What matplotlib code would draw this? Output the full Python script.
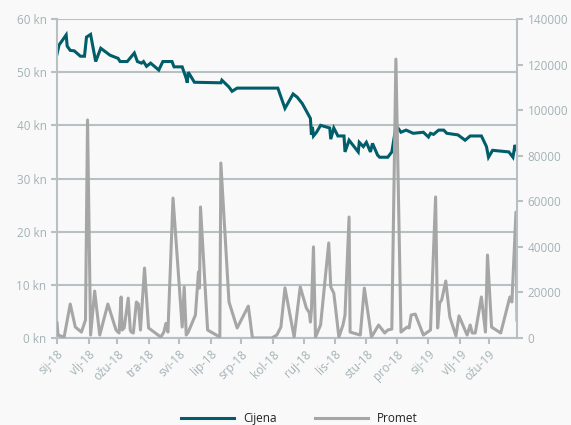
import numpy as np
import pandas as pd
import matplotlib
matplotlib.use("Agg")
import matplotlib.pyplot as plt
import matplotlib.dates as mdates

# days counted from 1 Jan 2018
start = pd.Timestamp("2018-01-01")
end_day = 452

price_days = [0, 2, 9, 10, 13, 17, 23, 27, 29, 33, 38, 43, 52, 60, 62, 69, 76, 79, 83, 85,
              88, 92, 100, 104, 113, 115, 123, 127, 128, 129, 135, 161, 162, 169, 172, 177,
              217, 224, 232, 236, 241, 245, 249, 250, 251, 252, 255, 259, 268, 269, 272, 276,
              282, 283, 287, 296, 297, 301, 304, 308, 310, 315, 317, 325, 329, 333, 335, 338,
              343, 350, 360, 365, 367, 370, 375, 380, 383, 394, 401, 406, 417, 422, 424, 428,
              444, 448, 450, 452]
price = [53.4, 55.1, 57.0, 54.9, 54.1, 54.0, 53.0, 53.0, 56.6, 57.1, 52.0, 54.5, 53.2, 52.6,
         52.0, 52.0, 53.6, 52.0, 51.7, 52.0, 51.1, 51.7, 50.4, 52.0, 52.0, 51.0, 51.0, 48.8,
         48.0, 50.0, 48.1, 48.0, 48.5, 47.2, 46.4, 47.0, 47.0, 43.2, 45.9, 45.3, 44.1, 42.7,
         41.3, 38.2, 39.7, 38.0, 38.7, 40.0, 39.5, 37.4, 39.5, 38.0, 38.0, 35.0, 37.2, 35.0,
         36.8, 36.0, 36.8, 35.0, 36.6, 34.4, 34.0, 34.0, 35.0, 39.7, 39.5, 38.7, 39.1, 38.5,
         38.7, 37.8, 38.5, 38.3, 39.1, 39.1, 38.5, 38.2, 37.2, 38.0, 38.0, 36.0, 34.0, 35.3,
         35.0, 34.0, 36.3, 35.3]

promet_days = [0, 1, 7, 13, 18, 24, 28, 30, 33, 37, 42, 50, 58, 61, 63, 64, 66, 70, 72, 73,
               75, 78, 80, 82, 86, 90, 102, 105, 107, 109, 114, 123, 125, 127, 129, 136, 139,
               140, 141, 148, 160, 161, 169, 177, 188, 192, 211, 216, 220, 224, 233, 239, 245,
               248, 249, 250, 252, 254, 259, 267, 269, 272, 277, 281, 283, 287, 288, 298, 302,
               309, 316, 322, 325, 329, 333, 338, 344, 346, 348, 352, 360, 367, 372, 374, 376,
               378, 382, 386, 392, 395, 403, 406, 408, 411, 417, 421, 423, 427, 436, 445, 447,
               451, 452]
promet = [6600, 1300, 400, 14900, 4800, 2600, 7900, 95700, 1300, 20600, 1300, 14900, 3500,
          2200, 18000, 3500, 4400, 17500, 3500, 2600, 2200, 15800, 14900, 3500, 30700, 4400,
          400, 2600, 6400, 2600, 61400, 4800, 22400, 1300, 2600, 10100, 29000, 21900, 57500,
          3500, 400, 76800, 15800, 4400, 14000, 0, 0, 1300, 4800, 22000, 400, 22400, 13200,
          11000, 7000, 12300, 40000, 400, 5700, 41700, 22400, 19700, 400, 5700, 10100, 53100,
          2600, 1300, 21900, 400, 5700, 2200, 3500, 3900, 122400, 2600, 4800, 4400, 10100,
          10500, 1300, 3500, 61900, 4400, 15400, 16700, 25000, 9200, 900, 9700, 1300, 5700,
          2200, 2200, 18000, 2600, 36400, 4800, 2200, 18000, 15800, 55300, 7900]

month_names = ["sij", "vlj", "ožu", "tra", "svi", "lip", "srp", "kol", "ruj", "lis", "stu", "pro"]

price_dates = start + pd.to_timedelta(price_days, unit="D")
promet_dates = start + pd.to_timedelta(promet_days, unit="D")

plt.rcParams["font.family"] = ["Open Sans", "DejaVu Sans"]
grid_c = "#b7c1c3"
lab_c = "#a3b2b5"
bg = "#f9f9f9"

fig = plt.figure(figsize=(5.71, 4.25), dpi=100, facecolor=bg)
ax = fig.add_axes([57 / 571, 1 - 338 / 425, 460 / 571, 319 / 425])
ax.set_facecolor(bg)
ax2 = ax.twinx()

l1, = ax.plot(price_dates, price, color="#005e6b", lw=2.2, label="Cijena", solid_joinstyle="miter")
l2, = ax2.plot(promet_dates, promet, color="#a6a6a6", lw=2.2, label="Promet")

ax.set_ylim(0, 60)
ax2.set_ylim(0, 140000)
ax.set_yticks(np.arange(0, 61, 10))
ax.set_yticklabels([f"{v} kn" for v in range(0, 61, 10)])
ax2.set_yticks(np.arange(0, 140001, 20000))
ax2.set_yticklabels([str(v) for v in range(0, 140001, 20000)])

ax.set_xlim(start, start + pd.Timedelta(days=end_day))
months = pd.date_range("2018-01-01", "2019-03-01", freq="MS")
ax.set_xticks(months)
ax.set_xticklabels([f"{month_names[m.month - 1]}-{m.year % 100}" for m in months],
                   rotation=45, ha="right", rotation_mode="anchor")

ax.yaxis.grid(True, color=grid_c, lw=1.5)
ax.set_axisbelow(True)
for a in (ax, ax2):
    for s in a.spines.values():
        s.set_visible(False)
    a.tick_params(colors=grid_c, labelcolor=lab_c, labelsize=8.5, width=1.5, length=4)
ax.spines["left"].set_visible(True)
ax.spines["left"].set_color(grid_c)
ax.spines["left"].set_linewidth(1.5)
ax.spines["bottom"].set_visible(True)
ax.spines["bottom"].set_color(grid_c)
ax.spines["bottom"].set_linewidth(1.5)
ax2.spines["right"].set_visible(True)
ax2.spines["right"].set_color(grid_c)
ax2.spines["right"].set_linewidth(1.5)
ax.tick_params(axis="x", pad=3)

fig.legend(handles=[l1, l2], loc="lower center", bbox_to_anchor=(0.524, -0.025), ncol=2,
           frameon=False, handlelength=4.5, columnspacing=3.2, fontsize=8.5,
           labelcolor="#222222")

fig.savefig("out.png", dpi=100, facecolor=bg)
